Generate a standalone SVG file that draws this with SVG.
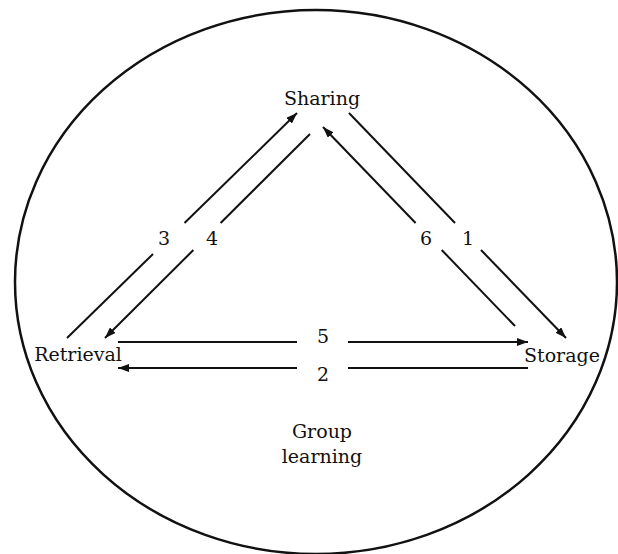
<svg xmlns="http://www.w3.org/2000/svg" width="618" height="554" viewBox="0 0 618 554">
<style>
.lbl{font-family:"DejaVu Serif","Liberation Serif",serif;font-size:19px;fill:#111;text-anchor:middle}
.num{font-family:"DejaVu Serif","Liberation Serif",serif;font-size:19px;fill:#111;text-anchor:middle}
.ln{stroke:#111;stroke-width:2;fill:none}
</style>
<defs>
<marker id="ah" markerUnits="userSpaceOnUse" markerWidth="12" markerHeight="8" refX="11" refY="4" orient="auto">
<path d="M0,0 L11,4 L0,8 z" fill="#111"/>
</marker>
</defs>
<rect width="618" height="554" fill="#fff"/>
<g id="boundary">
<ellipse cx="316" cy="282" rx="301" ry="272" fill="none" stroke="#111" stroke-width="2.5"/>
</g>
<g id="sharing"><text class="lbl" x="322" y="105">Sharing</text></g>
<g id="retrieval"><text class="lbl" x="78" y="361">Retrieval</text></g>
<g id="storage"><text class="lbl" x="562" y="362">Storage</text></g>
<g id="group-learning"><text class="lbl" x="322" y="438">Group</text><text class="lbl" x="322" y="463">learning</text></g>
<g id="connectors">
<!-- 3: Retrieval -> Sharing -->
<line class="ln" x1="67" y1="338" x2="153" y2="254"/>
<line class="ln" x1="184.5" y1="223" x2="297" y2="113" marker-end="url(#ah)"/>
<text class="num" x="164" y="245">3</text>
<!-- 4: Sharing -> Retrieval -->
<line class="ln" x1="310" y1="134" x2="220.6" y2="223"/>
<line class="ln" x1="193.4" y1="250" x2="105" y2="338" marker-end="url(#ah)"/>
<text class="num" x="212" y="245">4</text>
<!-- 6: Storage -> Sharing -->
<line class="ln" x1="515" y1="326" x2="441.7" y2="250"/>
<line class="ln" x1="415.6" y1="223" x2="323" y2="127" marker-end="url(#ah)"/>
<text class="num" x="426" y="245">6</text>
<!-- 1: Sharing -> Storage -->
<line class="ln" x1="349" y1="113" x2="455" y2="223"/>
<line class="ln" x1="481" y1="250" x2="566" y2="338" marker-end="url(#ah)"/>
<text class="num" x="468" y="245">1</text>
<!-- 5: Retrieval -> Storage -->
<line class="ln" x1="118" y1="342" x2="297" y2="342"/>
<line class="ln" x1="348" y1="342" x2="528" y2="342" marker-end="url(#ah)"/>
<text class="num" x="323" y="343">5</text>
<!-- 2: Storage -> Retrieval -->
<line class="ln" x1="528" y1="368" x2="348" y2="368"/>
<line class="ln" x1="297" y1="368" x2="118" y2="368" marker-end="url(#ah)"/>
<text class="num" x="323" y="381">2</text>
</g>
</svg>
